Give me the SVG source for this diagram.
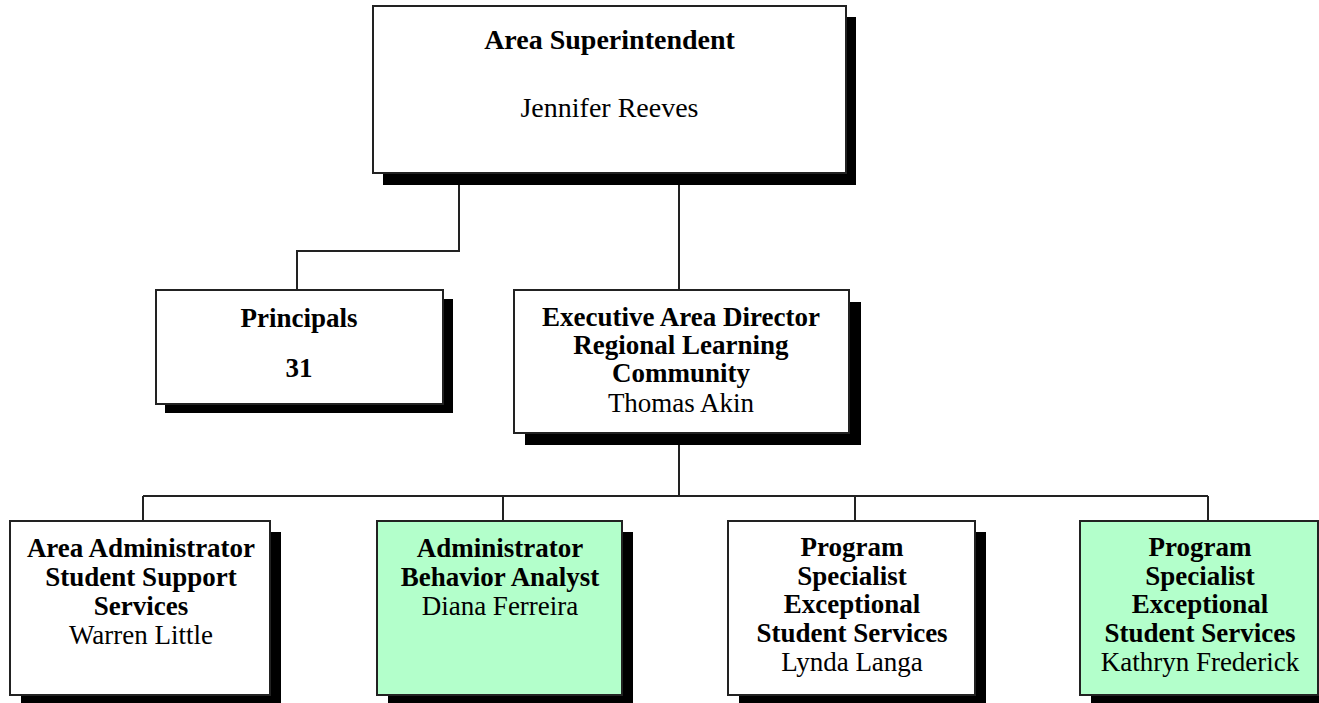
<svg xmlns="http://www.w3.org/2000/svg" width="1319" height="703" viewBox="0 0 1319 703">
<style>
  .box { fill: #ffffff; stroke: #222222; stroke-width: 2; }
  .green { fill: #b3ffcb; }
  .shadow { fill: #000000; }
  .conn { fill: none; stroke: #222222; stroke-width: 2; }
  text { font-family: "Liberation Serif", "Times New Roman", serif; font-size: 27px; fill: #000000; text-anchor: middle; }
  .b { font-weight: bold; }
  .top { font-size: 28px; }
</style>
<rect width="1319" height="703" fill="#ffffff"/>
<g id="connectors">
  <polyline class="conn" points="459,173 459,251 297,251 297,290"/>
  <line class="conn" x1="679" y1="173" x2="679" y2="290"/>
  <line class="conn" x1="679" y1="433" x2="679" y2="496"/>
  <line class="conn" x1="143" y1="496" x2="1208" y2="496"/>
  <line class="conn" x1="143" y1="496" x2="143" y2="521"/>
  <line class="conn" x1="503" y1="496" x2="503" y2="521"/>
  <line class="conn" x1="855" y1="496" x2="855" y2="521"/>
  <line class="conn" x1="1208" y1="496" x2="1208" y2="521"/>
</g>
<g id="area-superintendent">
  <rect class="shadow" x="383" y="17" width="473" height="168"/>
  <rect class="box" x="373" y="6" width="473" height="167"/>
  <text class="b top" x="609.5" y="49">Area Superintendent</text>
  <text class="top" x="609.5" y="117">Jennifer Reeves</text>
</g>
<g id="principals">
  <rect class="shadow" x="165" y="299" width="288" height="114"/>
  <rect class="box" x="156" y="290" width="287" height="114"/>
  <text class="b" x="299" y="327">Principals</text>
  <text class="b" x="299" y="377">31</text>
</g>
<g id="executive-area-director">
  <rect class="shadow" x="525" y="302" width="336" height="143"/>
  <rect class="box" x="514" y="290" width="335" height="143"/>
  <text class="b" x="681" y="326">Executive Area Director</text>
  <text class="b" x="681" y="354">Regional Learning</text>
  <text class="b" x="681" y="382">Community</text>
  <text x="681" y="412">Thomas Akin</text>
</g>
<g id="area-administrator">
  <rect class="shadow" x="21" y="532" width="260" height="175"/>
  <rect class="box" x="10" y="521" width="260" height="174"/>
  <text class="b" x="141" y="557">Area Administrator</text>
  <text class="b" x="141" y="586">Student Support</text>
  <text class="b" x="141" y="615">Services</text>
  <text x="141" y="644">Warren Little</text>
</g>
<g id="behavior-analyst">
  <rect class="shadow" x="388" y="532" width="245" height="175"/>
  <rect class="box green" x="377" y="521" width="245" height="174"/>
  <text class="b" x="500" y="557">Administrator</text>
  <text class="b" x="500" y="586">Behavior Analyst</text>
  <text x="500" y="615">Diana Ferreira</text>
</g>
<g id="program-specialist-1">
  <rect class="shadow" x="739" y="532" width="247" height="175"/>
  <rect class="box" x="728" y="521" width="247" height="174"/>
  <text class="b" x="852" y="556">Program</text>
  <text class="b" x="852" y="585">Specialist</text>
  <text class="b" x="852" y="613">Exceptional</text>
  <text class="b" x="852" y="642">Student Services</text>
  <text x="852" y="671">Lynda Langa</text>
</g>
<g id="program-specialist-2">
  <rect class="shadow" x="1091" y="532" width="240" height="175"/>
  <rect class="box green" x="1080" y="521" width="238" height="174"/>
  <text class="b" x="1200" y="556">Program</text>
  <text class="b" x="1200" y="585">Specialist</text>
  <text class="b" x="1200" y="613">Exceptional</text>
  <text class="b" x="1200" y="642">Student Services</text>
  <text x="1200" y="671">Kathryn Frederick</text>
</g>
</svg>
